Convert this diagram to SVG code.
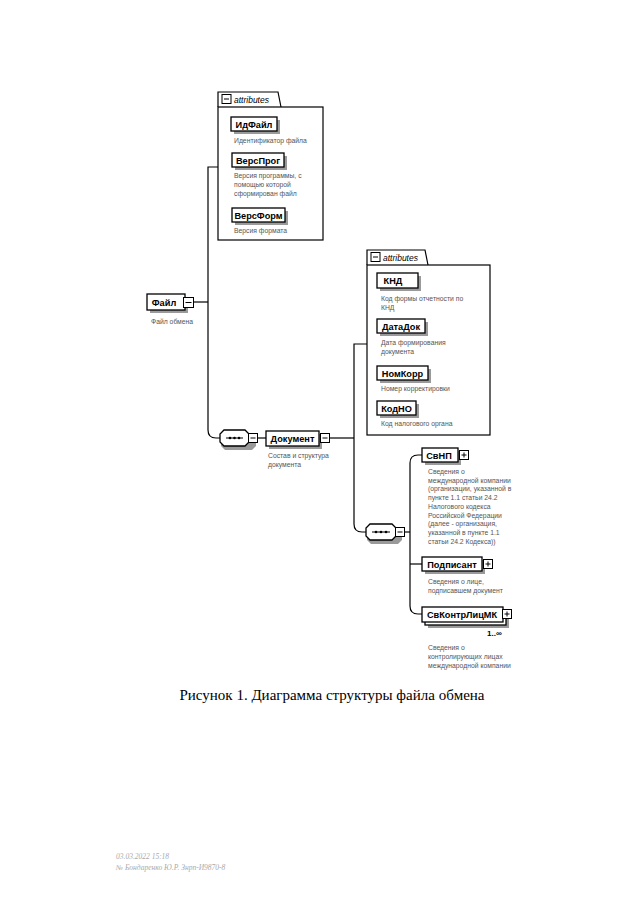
<svg xmlns="http://www.w3.org/2000/svg" width="640" height="905" viewBox="0 0 640 905">
<style>
.box{fill:#fff;stroke:#000;stroke-width:1.3}
.sh{fill:#9a9a9a}
.lbl{font-family:"Liberation Sans",Arial,sans-serif;font-weight:bold;font-size:9.2px;fill:#000}
.desc{font-family:"Liberation Sans",Arial,sans-serif;font-size:6.8px;fill:#555}
.conn{fill:none;stroke:#000;stroke-width:1.2}
.pm{fill:#fff;stroke:#000;stroke-width:1}
.pmL{stroke:#000;stroke-width:1}
.att{fill:#fff;stroke:#000;stroke-width:1.2}
.atxt{font-family:"Liberation Sans",Arial,sans-serif;font-style:italic;font-size:8.5px;fill:#000}
.cap{font-family:"Liberation Serif","Times New Roman",serif;font-size:15px;fill:#000}
.foot{font-family:"Liberation Serif",serif;font-style:italic;font-size:7.5px;fill:#aaa}
</style>
<rect width="640" height="905" fill="#fff"/>

<g id="connectors">
<path class="conn" d="M193 302 H208"/>
<path class="conn" d="M218 167 H208 V430 Q208 438 216 438 H220"/>
<path class="conn" d="M257 438 H266"/>
<path class="conn" d="M329 438 H354"/>
<path class="conn" d="M367 344 H354 V524 Q354 532 362 532 H366"/>
<path class="conn" d="M404 532 H410"/>
<path class="conn" d="M422 455 H418 Q410 455 410 463 V606 Q410 614 418 614 H422"/>
<path class="conn" d="M410 564 H422"/>
</g>

<g id="attributes1">
<path class="att" d="M218 107 V92 H278 L281 107"/>
<rect class="att" x="218" y="107" width="105" height="133"/>
<rect class="pm" x="222" y="94.5" width="9" height="9"/>
<line class="pmL" x1="224" y1="99" x2="229" y2="99"/>
<text class="atxt" x="234" y="102.5">attributes</text>
</g>

<g id="ИдФайл">
<rect class="sh" x="234" y="120" width="46" height="14"/>
<rect class="box" x="231" y="117" width="46" height="14"/>
<text class="lbl" x="254" y="127.5" text-anchor="middle">ИдФайл</text>
<text class="desc" x="234" y="143">Идентификатор файла</text>
</g>

<g id="ВерсПрог">
<rect class="sh" x="235" y="156" width="52" height="14"/>
<rect class="box" x="232" y="153" width="52" height="14"/>
<text class="lbl" x="258" y="163.5" text-anchor="middle">ВерсПрог</text>
<text class="desc" x="234" y="178">Версия программы, с</text>
<text class="desc" x="234" y="187">помощью которой</text>
<text class="desc" x="234" y="196">сформирован файл</text>
</g>

<g id="ВерсФорм">
<rect class="sh" x="235" y="211" width="53" height="14"/>
<rect class="box" x="232" y="208" width="53" height="14"/>
<text class="lbl" x="258.5" y="218.5" text-anchor="middle">ВерсФорм</text>
<text class="desc" x="234" y="233">Версия формата</text>
</g>

<g id="Файл">
<rect class="sh" x="150" y="297" width="38" height="16"/>
<rect class="box" x="147" y="294" width="38" height="16"/>
<text class="lbl" x="164" y="305.5" text-anchor="middle">Файл</text>
<rect class="pm" x="183.5" y="297.5" width="10" height="10"/>
<line class="pmL" x1="185.5" y1="302.5" x2="191.5" y2="302.5"/>
<text class="desc" x="151" y="324">Файл обмена</text>
</g>

<g id="sequence1">
<path d="M225 433 H252 L256 437 V446 L252 450 H225 L221 446 V437 Z" fill="#9a9a9a"/>
<path class="box" d="M224 430 H245 L249 434 V442 L245 446 H224 L220 442 V434 Z"/>
<line class="pmL" x1="226" y1="438" x2="243" y2="438"/>
<circle cx="230" cy="438" r="1.3"/><circle cx="234.5" cy="438" r="1.3"/><circle cx="239" cy="438" r="1.3"/>
<rect class="pm" x="248.5" y="433.5" width="9" height="9"/>
<line class="pmL" x1="250.5" y1="438" x2="255.5" y2="438"/>
</g>

<g id="Документ">
<rect class="sh" x="269" y="434" width="53" height="15"/>
<rect class="box" x="266" y="431" width="53" height="15"/>
<text class="lbl" x="292.5" y="441.5" text-anchor="middle">Документ</text>
<rect class="pm" x="320.5" y="433.5" width="9" height="9"/>
<line class="pmL" x1="322.5" y1="438" x2="327.5" y2="438"/>
<text class="desc" x="268" y="458">Состав и структура</text>
<text class="desc" x="268" y="467">документа</text>
</g>

<g id="attributes2">
<path class="att" d="M367 265 V250 H425 L428 265"/>
<rect class="att" x="367" y="265" width="123" height="170"/>
<rect class="pm" x="371" y="252.5" width="9" height="9"/>
<line class="pmL" x1="373" y1="257" x2="378" y2="257"/>
<text class="atxt" x="383" y="260.5">attributes</text>
</g>

<g id="КНД">
<rect class="sh" x="380" y="276" width="41" height="15"/>
<rect class="box" x="377" y="273" width="41" height="15"/>
<text class="lbl" x="393" y="284" text-anchor="middle">КНД</text>
<text class="desc" x="381" y="301">Код формы отчетности по</text>
<text class="desc" x="381" y="310">КНД</text>
</g>

<g id="ДатаДок">
<rect class="sh" x="380" y="322" width="48" height="14"/>
<rect class="box" x="377" y="319" width="48" height="14"/>
<text class="lbl" x="401" y="329.5" text-anchor="middle">ДатаДок</text>
<text class="desc" x="381" y="345">Дата формирования</text>
<text class="desc" x="381" y="354">документа</text>
</g>

<g id="НомКорр">
<rect class="sh" x="380" y="369" width="51" height="14"/>
<rect class="box" x="377" y="366" width="51" height="14"/>
<text class="lbl" x="402.5" y="376.5" text-anchor="middle">НомКорр</text>
<text class="desc" x="381" y="391">Номер корректировки</text>
</g>

<g id="КодНО">
<rect class="sh" x="380" y="404" width="39" height="14"/>
<rect class="box" x="377" y="401" width="39" height="14"/>
<text class="lbl" x="396.5" y="411.5" text-anchor="middle">КодНО</text>
<text class="desc" x="381" y="426">Код налогового органа</text>
</g>

<g id="sequence2">
<path d="M371 527 H398 L402 531 V540 L398 544 H371 L367 540 V531 Z" fill="#9a9a9a"/>
<path class="box" d="M370 524 H392 L396 528 V536 L392 540 H370 L366 536 V528 Z"/>
<line class="pmL" x1="372" y1="532" x2="390" y2="532"/>
<circle cx="376" cy="532" r="1.3"/><circle cx="381" cy="532" r="1.3"/><circle cx="386" cy="532" r="1.3"/>
<rect class="pm" x="395.5" y="527.5" width="9" height="9"/>
<line class="pmL" x1="397.5" y1="532" x2="402.5" y2="532"/>
</g>

<g id="СвНП">
<rect class="sh" x="425" y="451" width="36" height="14"/>
<rect class="box" x="422" y="448" width="36" height="14"/>
<text class="lbl" x="439" y="458.5" text-anchor="middle">СвНП</text>
<rect class="pm" x="459.5" y="450.5" width="9" height="9"/>
<line class="pmL" x1="461.5" y1="455" x2="466.5" y2="455"/>
<line class="pmL" x1="464" y1="452.5" x2="464" y2="457.5"/>
<text class="desc" x="428" y="474">Сведения о</text>
<text class="desc" x="428" y="482.7">международной компании</text>
<text class="desc" x="428" y="491.4">(организации, указанной в</text>
<text class="desc" x="428" y="500.1">пункте 1.1 статьи 24.2</text>
<text class="desc" x="428" y="508.8">Налогового кодекса</text>
<text class="desc" x="428" y="517.5">Российской Федерации</text>
<text class="desc" x="428" y="526.2">(далее - организация,</text>
<text class="desc" x="428" y="534.9">указанной в пункте 1.1</text>
<text class="desc" x="428" y="543.6">статьи 24.2 Кодекса))</text>
</g>

<g id="Подписант">
<rect class="sh" x="425" y="560" width="60" height="14"/>
<rect class="box" x="422" y="557" width="60" height="14"/>
<text class="lbl" x="452" y="567.5" text-anchor="middle">Подписант</text>
<rect class="pm" x="483.5" y="559.5" width="9" height="9"/>
<line class="pmL" x1="485.5" y1="564" x2="490.5" y2="564"/>
<line class="pmL" x1="488" y1="561.5" x2="488" y2="566.5"/>
<text class="desc" x="428" y="584">Сведения о лице,</text>
<text class="desc" x="428" y="593">подписавшем документ</text>
</g>

<g id="СвКонтрЛицМК">
<rect class="sh" x="428" y="613" width="81" height="15"/>
<rect class="box" x="425" y="610" width="81" height="15"/>
<rect class="box" x="422" y="607" width="81" height="15"/>
<text class="lbl" x="462" y="617.5" text-anchor="middle">СвКонтрЛицМК</text>
<rect class="pm" x="502.5" y="609.5" width="9" height="9"/>
<line class="pmL" x1="504.5" y1="614" x2="509.5" y2="614"/>
<line class="pmL" x1="507" y1="611.5" x2="507" y2="616.5"/>
<text class="lbl" x="487" y="636" style="font-size:8px">1..∞</text>
<text class="desc" x="428" y="650">Сведения о</text>
<text class="desc" x="428" y="659">контролирующих лицах</text>
<text class="desc" x="428" y="668">международной компании</text>
</g>

<text class="cap" x="332" y="700" text-anchor="middle">Рисунок 1. Диаграмма структуры файла обмена</text>

<text class="foot" x="116" y="859">03.03.2022 15:18</text>
<text class="foot" x="116" y="870">№ Бондаренко Ю.Р. Знрп-И9870-8</text>
</svg>
